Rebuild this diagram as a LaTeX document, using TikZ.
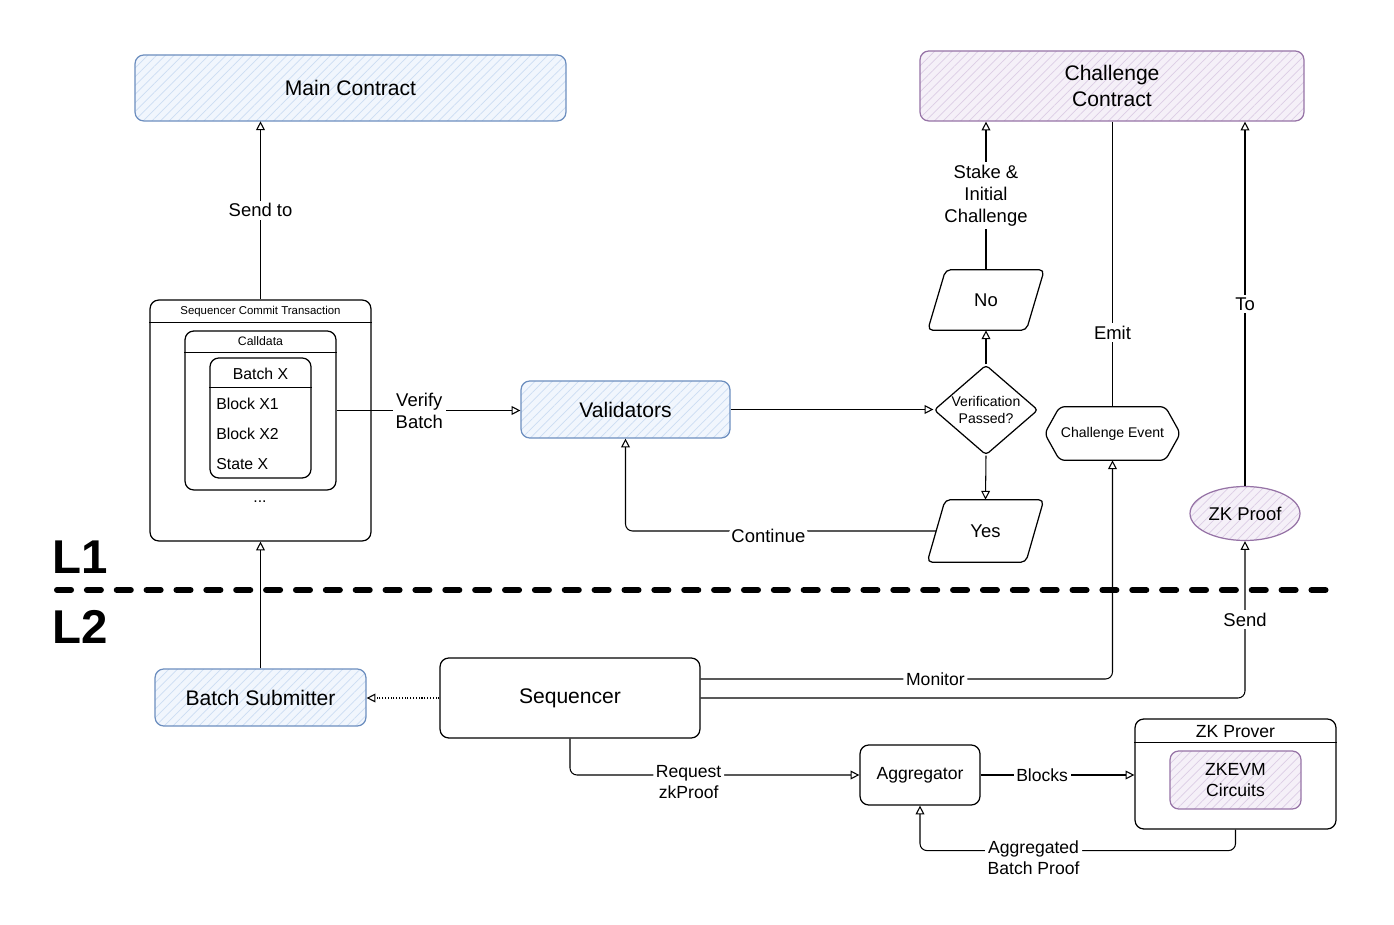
\documentclass[tikz,border=0pt]{standalone}
\usepackage{fontspec}
\setmainfont{Liberation Sans}
\usetikzlibrary{arrows.meta,calc,patterns.meta,shapes.geometric}
\definecolor{bfill}{HTML}{F1F6FD}
\definecolor{bhatch}{HTML}{CCDDF3}
\definecolor{bline}{HTML}{6C8EBF}
\definecolor{pfill}{HTML}{F5F0F8}
\definecolor{phatch}{HTML}{DCCDE5}
\definecolor{pline}{HTML}{9673A6}
\tikzset{
  every node/.style={font=\fontsize{10.5}{12.5}\selectfont},
  big/.style={font=\fontsize{12}{14.5}\selectfont},
  mid/.style={font=\fontsize{10}{12}\selectfont},
  small/.style={font=\fontsize{8}{10}\selectfont},
  tiny/.style={font=\fontsize{6.5}{8}\selectfont},
  box/.style={draw, line width=0.7pt, rounded corners=5pt, inner sep=0pt, align=center},
  bluebox/.style={box, draw=bline, preaction={fill=bfill}, pattern={Lines[angle=45,distance=3.5pt,line width=0.4pt]}, pattern color=bhatch},
  purplebox/.style={box, draw=pline, preaction={fill=pfill}, pattern={Lines[angle=45,distance=3.5pt,line width=0.4pt]}, pattern color=phatch},
  shp/.style={draw, line width=0.7pt, rounded corners=3pt},
  plain/.style={inner sep=0pt, align=center},
  arr/.style={line width=0.6pt, -{Triangle[open,length=5pt,width=5pt]}},
  link/.style={line width=0.6pt},
  lbl/.style={fill=white, inner sep=1.5pt, align=center},
  divider/.style={line width=3.4pt, line cap=round, dash pattern=on 8pt off 9pt}
}
\begin{document}
\begin{tikzpicture}[x=0.02cm,y=-0.02cm]
\fill[white] (0,0) rectangle (1394,925);
\useasboundingbox (0,0) rectangle (1394,925);

% L1 / L2 divider
\node[font=\fontsize{27}{30}\selectfont\bfseries] (l1) at (80,557) {L1};
\node[font=\fontsize{27}{30}\selectfont\bfseries] (l2) at (80,627) {L2};
\coordinate (dl) at (57,590);
\coordinate (dr) at (1335,590);
\draw[divider] (dl) -- (dr);

% top contracts
\node[bluebox, big, minimum width=8.62cm, minimum height=1.32cm] (main) at (350.5,88) {Main Contract};
\node[purplebox, big, minimum width=7.68cm, minimum height=1.4cm] (cc) at (1112,86) {Challenge\\Contract};

% Sequencer commit transaction container
\node[box, minimum width=4.42cm, minimum height=4.82cm] (sct) at (260.5,420.5) {};
\draw[line width=0.7pt] ($(sct.north west)+(0,23)$) -- ($(sct.north east)+(0,23)$);
\node[tiny] (sctt) at ($(sct.north)+(0,12)$) {Sequencer Commit Transaction};
\node[box, minimum width=3.02cm, minimum height=3.18cm] (cd) at (260.5,410.5) {};
\draw[line width=0.7pt] ($(cd.north west)+(0,22)$) -- ($(cd.north east)+(0,22)$);
\node[font=\fontsize{7}{8}\selectfont] (cdt) at ($(cd.north)+(0,11)$) {Calldata};
\node[box, minimum width=2.02cm, minimum height=2.4cm] (bx) at (260.5,418) {};
\draw[line width=0.7pt] ($(bx.north west)+(0,30)$) -- ($(bx.north east)+(0,30)$);
\node[font=\fontsize{9}{11}\selectfont] (bxt) at ($(bx.north)+(0,16)$) {Batch X};
\node[font=\fontsize{9}{11}\selectfont, anchor=west, inner sep=0pt] (b1) at (216,404) {Block X1};
\node[font=\fontsize{9}{11}\selectfont, anchor=west, inner sep=0pt] (b2) at (216,434) {Block X2};
\node[font=\fontsize{9}{11}\selectfont, anchor=west, inner sep=0pt] (b3) at (216,464) {State X};
\node[font=\fontsize{9}{11}\selectfont] (dots) at (260,502) {...};

% Validators and decision
\node[bluebox, big, minimum width=4.18cm, minimum height=1.14cm] (val) at (625.5,409.5) {Validators};
\node[draw, diamond, line width=0.7pt, rounded corners=2pt, inner sep=0pt, minimum width=2.08cm, minimum height=1.8cm] (dia) at (986,410) {};
\node[small, plain] (diat) at (dia) {Verification\\Passed?};

% No / Yes parallelograms
\node[plain, minimum width=1.96cm, minimum height=1.2cm] (no) at (986,300) {No};
\draw[shp] ($(no.north west)+(9,0)$) -- ($(no.north east)+(9,0)$) -- ($(no.south east)+(-9,0)$) -- ($(no.south west)+(-9,0)$) -- cycle;
\node[plain, minimum width=1.96cm, minimum height=1.24cm] (yes) at (985.5,531) {Yes};
\draw[shp] ($(yes.north west)+(9,0)$) -- ($(yes.north east)+(9,0)$) -- ($(yes.south east)+(-9,0)$) -- ($(yes.south west)+(-9,0)$) -- cycle;

% Challenge Event hexagon
\node[small, plain, minimum width=2.1cm, minimum height=1.06cm] (ce) at (1112.5,433.5) {Challenge Event};
\draw[shp] (ce.north west) -- (ce.north east) -- ($(ce.east)+(15,0)$) -- (ce.south east) -- (ce.south west) -- ($(ce.west)+(-15,0)$) -- cycle;

% ZK Proof
\node[purplebox, ellipse, rounded corners=0pt, minimum width=2.2cm, minimum height=1.08cm] (zk) at (1245,513.5) {ZK Proof};

% L2 nodes
\node[bluebox, big, minimum width=4.22cm, minimum height=1.14cm] (bs) at (260.5,697.5) {Batch Submitter};
\node[box, big, minimum width=5.2cm, minimum height=1.6cm] (seq) at (570,698) {Sequencer};
\node[box, mid, minimum width=2.4cm, minimum height=1.2cm] (agg) at (920,775) {Aggregator};
\node[box, minimum width=4.02cm, minimum height=2.2cm] (zkp) at (1235.5,774) {};
\draw[line width=0.7pt] ($(zkp.north west)+(0,24)$) -- ($(zkp.north east)+(0,24)$);
\node[mid] (zkpt) at ($(zkp.north)+(0,13)$) {ZK Prover};
\node[purplebox, mid, minimum width=2.62cm, minimum height=1.16cm] (zkevm) at (1235.5,780) {ZKEVM\\Circuits};

% connectors
\draw[arr] (sct.north) -- node[lbl]{Send to} (sct.north |- main.south);
\draw[arr] (cd.east) -- node[lbl, pos=0.45]{Verify\\Batch} (cd.east -| val.west);
\draw[arr] (val.east) -- (val.east -| dia.west);
\draw[arr] (dia.north) -- (no.south);
\draw[arr] (no.north) -- node[lbl, pos=0.5]{Stake \&\\Initial\\Challenge} (no.north |- cc.south);
\draw[arr] (dia.south) -- (yes.north);
\draw[arr, rounded corners=4pt] (yes.west) -| node[lbl, pos=0.27, yshift=-3pt]{Continue} (val.south);
\draw[link] (cc.south -| ce.north) -- node[lbl, pos=0.74]{Emit} (ce.north);
\draw[arr] (zk.north) -- node[lbl, pos=0.5]{To} (zk.north |- cc.south);
\draw[arr] (bs.north) -- (bs.north |- sct.south);
\draw[arr, densely dotted] (seq.west) -- (seq.west -| bs.east);
\draw[arr, rounded corners=4pt] ($(seq.east)+(0,-19)$) -| node[lbl, pos=0.285, mid]{Monitor} (ce.south);
\draw[arr, rounded corners=4pt] (seq.east) -| node[lbl, pos=0.75]{Send} (zk.south);
\draw[arr, rounded corners=4pt] (seq.south) |- node[lbl, pos=0.705, mid, yshift=-4pt]{Request\\zkProof} (agg.west);
\draw[arr] (agg.east) -- node[lbl, pos=0.4, mid]{Blocks} (agg.east -| zkp.west);
\draw[arr, rounded corners=4pt] (zkp.south) |- node[lbl, pos=0.82, mid, yshift=-4pt]{Aggregated\\Batch Proof} ($(agg.south)+(0,45)$) -- (agg.south);
\end{tikzpicture}
\end{document}
